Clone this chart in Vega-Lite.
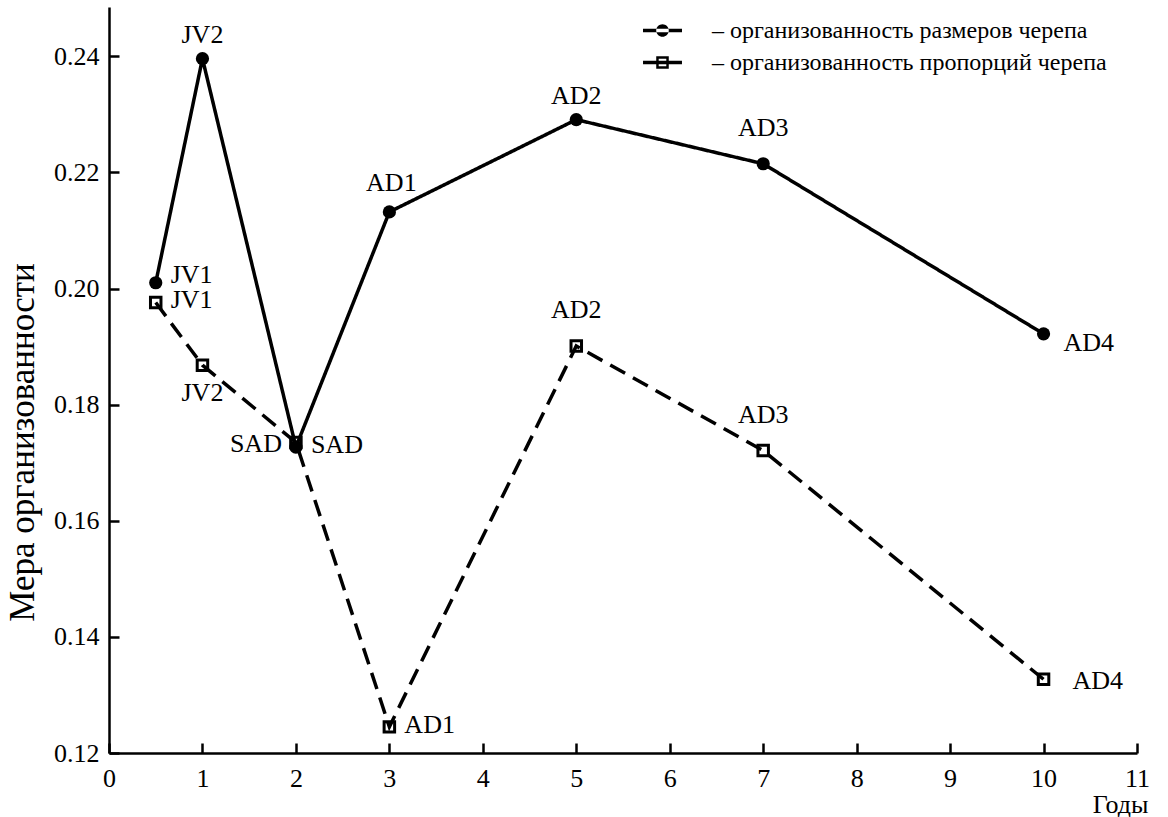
{
  "$schema": "https://vega.github.io/schema/vega-lite/v6.json",
  "width": 1028,
  "height": 746,
  "autosize": {"type": "none"},
  "padding": {"left": 109, "top": 7, "right": 31, "bottom": 64},
  "background": "white",
  "config": {
    "view": {"stroke": null},
    "font": "Liberation Serif",
    "text": {"font": "Liberation Serif", "fontSize": 26, "color": "black"}
  },
  "datasets": {
    "pts": [
      {"series": "– организованность размеров черепа", "x": 0.5, "y": 0.201, "label": "JV1"},
      {"series": "– организованность размеров черепа", "x": 1, "y": 0.2396, "label": "JV2"},
      {"series": "– организованность размеров черепа", "x": 2, "y": 0.1727, "label": "SAD"},
      {"series": "– организованность размеров черепа", "x": 3, "y": 0.2132, "label": "AD1"},
      {"series": "– организованность размеров черепа", "x": 5, "y": 0.2291, "label": "AD2"},
      {"series": "– организованность размеров черепа", "x": 7, "y": 0.2215, "label": "AD3"},
      {"series": "– организованность размеров черепа", "x": 10, "y": 0.1922, "label": "AD4"},
      {"series": "– организованность пропорций черепа", "x": 0.5, "y": 0.1976, "label": "JV1"},
      {"series": "– организованность пропорций черепа", "x": 1, "y": 0.1868, "label": "JV2"},
      {"series": "– организованность пропорций черепа", "x": 2, "y": 0.1735, "label": "SAD"},
      {"series": "– организованность пропорций черепа", "x": 3, "y": 0.1245, "label": "AD1"},
      {"series": "– организованность пропорций черепа", "x": 5, "y": 0.1901, "label": "AD2"},
      {"series": "– организованность пропорций черепа", "x": 7, "y": 0.1721, "label": "AD3"},
      {"series": "– организованность пропорций черепа", "x": 10, "y": 0.1327, "label": "AD4"}
    ]
  },
  "data": {"name": "pts"},
  "encoding": {
    "x": {
      "field": "x", "type": "quantitative",
      "scale": {"domain": [0, 11], "nice": false, "zero": false},
      "axis": {
        "values": [0, 1, 2, 3, 4, 5, 6, 7, 8, 9, 10, 11], "format": "d",
        "title": "Годы", "titleX": 1039, "titleY": 51, "titleAlign": "right", "titleBaseline": "middle",
        "titleFont": "Liberation Serif", "titleFontSize": 26, "titleFontWeight": "normal", "titleColor": "black",
        "labelFont": "Liberation Serif", "labelFontSize": 26, "labelColor": "black", "labelPadding": 22,
        "labelFlush": false, "labelOverlap": false,
        "tickSize": -10, "tickWidth": 2.5, "tickColor": "black",
        "domainWidth": 2.5, "domainColor": "black", "grid": false
      }
    },
    "y": {
      "field": "y", "type": "quantitative",
      "scale": {"domain": [0.12, 0.2485], "nice": false, "zero": false},
      "axis": {
        "values": [0.12, 0.14, 0.16, 0.18, 0.2, 0.22, 0.24], "format": ".2f",
        "title": "Мера организованности", "titleX": -87, "titleY": 435, "titleAngle": -90,
        "titleAlign": "center", "titleBaseline": "middle",
        "titleFont": "Liberation Serif", "titleFontSize": 35, "titleFontWeight": "normal", "titleColor": "black",
        "labelFont": "Liberation Serif", "labelFontSize": 26, "labelColor": "black", "labelPadding": 20,
        "labelFlush": false, "labelOverlap": false,
        "tickSize": -10, "tickWidth": 2.5, "tickColor": "black",
        "domainWidth": 2.5, "domainColor": "black", "grid": false
      }
    }
  },
  "layer": [
    {
      "mark": {"type": "line", "color": "black", "strokeWidth": 3.5},
      "encoding": {
        "detail": {"field": "series", "type": "nominal"},
        "strokeDash": {
          "condition": {"test": "datum.series === '– организованность размеров черепа'", "value": [1, 0]},
          "value": [17, 9]
        }
      }
    },
    {
      "mark": {"type": "point", "filled": true, "color": "black", "opacity": 1, "size": 0},
      "encoding": {
        "shape": {
          "field": "series", "type": "nominal",
          "scale": {
            "domain": ["– организованность размеров черепа", "– организованность пропорций черепа"],
            "range": [
              "M-1.18,-0.1H1.18V0.1H-1.18Z M-0.38,0 A0.38,0.38 0 1,0 0.38,0 A0.38,0.38 0 1,0 -0.38,0 Z",
              "M-1.18,-0.1H1.18V0.1H-1.18Z M-0.38,-0.38H0.38V0.38H-0.38Z M-0.23,-0.23V0.23H0.23V-0.23Z"
            ]
          },
          "legend": {
            "orient": "none", "legendX": 537, "legendY": 7, "title": null,
            "symbolSize": 1089, "symbolFillColor": "black", "symbolStrokeWidth": 0, "symbolOpacity": 1,
            "labelFont": "Liberation Serif", "labelFontSize": 24, "labelColor": "black",
            "labelOffset": 33, "labelLimit": 900, "rowPadding": 3, "padding": 0
          }
        }
      }
    },
    {
      "transform": [{"filter": {"field": "series", "equal": "– организованность размеров черепа"}}],
      "mark": {"type": "circle", "color": "black", "opacity": 1, "size": 175}
    },
    {
      "transform": [{"filter": {"field": "series", "equal": "– организованность пропорций черепа"}}],
      "mark": {"type": "square", "filled": false, "stroke": "black", "strokeWidth": 3, "opacity": 1, "size": 110}
    },
    {
      "transform": [{"filter": {"and": [{"field": "series", "equal": "– организованность размеров черепа"}, {"field": "x", "oneOf": [1, 5]}]}}],
      "mark": {"type": "text", "align": "center", "baseline": "middle", "dy": -24},
      "encoding": {"text": {"field": "label"}}
    },
    {
      "transform": [{"filter": {"and": [{"field": "series", "equal": "– организованность размеров черепа"}, {"field": "x", "oneOf": [3]}]}}],
      "mark": {"type": "text", "align": "center", "baseline": "middle", "dy": -29, "dx": 2},
      "encoding": {"text": {"field": "label"}}
    },
    {
      "transform": [{"filter": {"or": [
        {"and": [{"field": "series", "equal": "– организованность размеров черепа"}, {"field": "x", "oneOf": [7]}]},
        {"and": [{"field": "series", "equal": "– организованность пропорций черепа"}, {"field": "x", "oneOf": [5, 7]}]}
      ]}}],
      "mark": {"type": "text", "align": "center", "baseline": "middle", "dy": -36},
      "encoding": {"text": {"field": "label"}}
    },
    {
      "transform": [{"filter": {"and": [{"field": "series", "equal": "– организованность пропорций черепа"}, {"field": "x", "oneOf": [1]}]}}],
      "mark": {"type": "text", "align": "center", "baseline": "middle", "dy": 28},
      "encoding": {"text": {"field": "label"}}
    },
    {
      "transform": [{"filter": {"and": [{"field": "series", "equal": "– организованность размеров черепа"}, {"field": "x", "oneOf": [0.5]}]}}],
      "mark": {"type": "text", "align": "left", "baseline": "middle", "dx": 15, "dy": -8},
      "encoding": {"text": {"field": "label"}}
    },
    {
      "transform": [{"filter": {"or": [
        {"and": [{"field": "series", "equal": "– организованность размеров черепа"}, {"field": "x", "oneOf": [2]}]},
        {"and": [{"field": "series", "equal": "– организованность пропорций черепа"}, {"field": "x", "oneOf": [0.5, 3]}]}
      ]}}],
      "mark": {"type": "text", "align": "left", "baseline": "middle", "dx": 15, "dy": -2},
      "encoding": {"text": {"field": "label"}}
    },
    {
      "transform": [{"filter": {"and": [{"field": "series", "equal": "– организованность размеров черепа"}, {"field": "x", "oneOf": [10]}]}}],
      "mark": {"type": "text", "align": "left", "baseline": "middle", "dx": 20, "dy": 9},
      "encoding": {"text": {"field": "label"}}
    },
    {
      "transform": [{"filter": {"and": [{"field": "series", "equal": "– организованность пропорций черепа"}, {"field": "x", "oneOf": [10]}]}}],
      "mark": {"type": "text", "align": "left", "baseline": "middle", "dx": 29, "dy": 2},
      "encoding": {"text": {"field": "label"}}
    },
    {
      "transform": [{"filter": {"and": [{"field": "series", "equal": "– организованность пропорций черепа"}, {"field": "x", "oneOf": [2]}]}}],
      "mark": {"type": "text", "align": "right", "baseline": "middle", "dx": -14, "dy": 2},
      "encoding": {"text": {"field": "label"}}
    }
  ]
}
